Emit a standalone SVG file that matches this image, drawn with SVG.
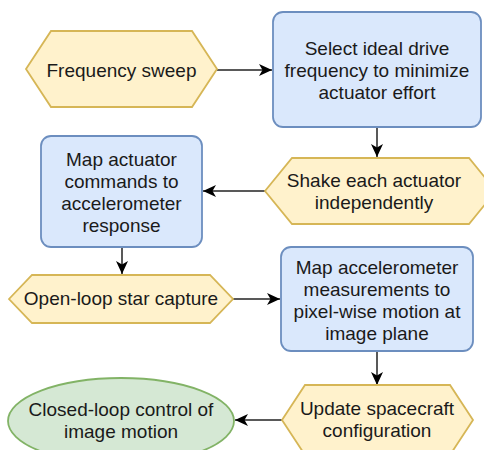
<svg xmlns="http://www.w3.org/2000/svg" width="484" height="450" viewBox="0 0 484 450">
<defs>
<style>
.y{fill:#fff2cc;stroke:#d6b656;stroke-width:1.8}
.b{fill:#dae8fc;stroke:#6c8ebf;stroke-width:1.8}
.g{fill:#d5e8d4;stroke:#82b366;stroke-width:1.8}
text{font-family:"Liberation Sans",Arial,Helvetica,sans-serif;font-size:19px;fill:#1a1a1a;text-anchor:middle}
.c{fill:none;stroke:#222;stroke-width:1.5}
</style>
<marker id="ah" markerUnits="userSpaceOnUse" markerWidth="15" markerHeight="13" refX="13" refY="6.5" orient="auto">
<path d="M0,0.5 L13,6.5 L0,12.5 L3.5,6.5 z" fill="#000"/>
</marker>
</defs>
<rect width="484" height="450" fill="#fff"/>
<g id="connectors">
<path class="c" d="M217,70 L272,70" marker-end="url(#ah)"/>
<path class="c" d="M377,127 L377,157" marker-end="url(#ah)"/>
<path class="c" d="M265,191 L203,191" marker-end="url(#ah)"/>
<path class="c" d="M122,247 L122,274" marker-end="url(#ah)"/>
<path class="c" d="M233,299 L280,299" marker-end="url(#ah)"/>
<path class="c" d="M377,351 L377,385" marker-end="url(#ah)"/>
<path class="c" d="M282,420 L235,420" marker-end="url(#ah)"/>
</g>
<g id="freq-sweep">
<polygon class="y" points="26,69 51,31 192,31 217,69 192,107 51,107"/>
<text x="121.5" y="77">Frequency sweep</text>
</g>
<g id="select-freq">
<rect class="b" x="273" y="12" width="208" height="115" rx="10"/>
<text x="377" y="55">Select ideal drive</text>
<text x="377" y="77">frequency to minimize</text>
<text x="377" y="99">actuator effort</text>
</g>
<g id="shake">
<polygon class="y" points="265,191 292,158 469,158 496,191 469,224 292,224"/>
<text x="374" y="187">Shake each actuator</text>
<text x="374" y="209">independently</text>
</g>
<g id="map-cmd">
<rect class="b" x="41" y="136" width="161" height="111" rx="10"/>
<text x="121.5" y="166">Map actuator</text>
<text x="121.5" y="188">commands to</text>
<text x="121.5" y="210">accelerometer</text>
<text x="121.5" y="232">response</text>
</g>
<g id="open-loop">
<polygon class="y" points="9,299 32,275 210,275 233,299 210,323 32,323"/>
<text x="121" y="305">Open-loop star capture</text>
</g>
<g id="map-accel">
<rect class="b" x="281" y="247" width="192" height="104" rx="10"/>
<text x="377" y="274">Map accelerometer</text>
<text x="377" y="296">measurements to</text>
<text x="377" y="318">pixel-wise motion at</text>
<text x="377" y="340">image plane</text>
</g>
<g id="update">
<polygon class="y" points="282,420 305,385 450,385 473,420 450,455 305,455"/>
<text x="377" y="415">Update spacecraft</text>
<text x="377" y="437">configuration</text>
</g>
<g id="closed-loop">
<ellipse class="g" cx="121" cy="421" rx="113" ry="43"/>
<text x="121" y="416">Closed-loop control of</text>
<text x="121" y="438">image motion</text>
</g>
</svg>
